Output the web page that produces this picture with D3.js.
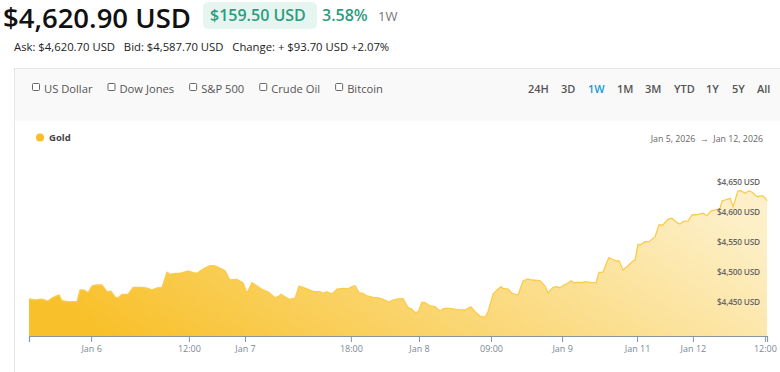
<!DOCTYPE html>
<html lang="en">
<head>
    <meta charset="UTF-8">
    <title>Gold 1W</title>
    <script src="https://d3js.org/d3.v7.min.js"></script>
    <style>
        body { margin: 0; background: #fff; }
        text { font-family: 'Open Sans', sans-serif; }
    </style>
</head>
<body>
<script>

    const width  = 780;
    const height = 372;

    // position along the trading axis (one unit ~ one sample) and price
    const steps = [0, 2, 4.3, 6.3, 7.7, 9.3, 10, 11, 13, 16, 17, 18.3, 19.7, 21, 22.3, 24.3, 26, 27.3, 28.7, 29.7,
        31, 33, 34.7, 37.7, 39.7, 41, 43, 44.3, 46, 47, 48.7, 50.3, 53, 54.7, 56, 58, 60.3, 62, 64.3, 65.3,
        67, 69.3, 71.3, 72.7, 74.3, 76, 78, 79.7, 82, 83, 84, 85.3, 86.7, 88.7, 90, 91.3, 93, 95, 97, 98,
        99.3, 100.3, 101.3, 102.7, 104.7, 106.3, 107.7, 108.7, 110, 111.3, 112.7, 114.7, 116.3, 118, 120, 121.3, 123, 124.7, 126.3, 127.7,
        128.7, 129.7, 131, 132, 133.7, 135.3, 137, 138.3, 140.3, 142.7, 145.3, 147.3, 148.7, 150.3, 152, 153, 154.7, 156, 157.3, 158,
        159.7, 161, 163, 164.7, 166.3, 167.7, 170.3, 172, 173, 174.7, 176, 177, 178.3, 179.3, 180.7, 181.7, 183, 184.3, 185.7, 187.3,
        189, 190, 191.3, 192.7, 193.3, 194.3, 196, 196.7, 198, 199.3, 201, 202, 203, 203.7, 205.3, 206.7, 208.7, 210, 211.3, 213,
        214.3, 216, 217, 218, 219.7, 221, 223, 224.7, 226, 227.3, 229.3, 230.3, 231, 233.7, 234.7, 236.3, 237.3, 238.7, 240, 241,
        242.7, 244.3, 245.3, 246];

    const prices = [4454.2, 4452.5, 4453.7, 4450.8, 4455.8, 4459.7, 4460.8, 4451.3, 4449.7, 4449.7, 4469.2, 4469.2, 4464.7, 4475.8, 4477.5, 4477.5, 4466.3, 4467, 4457.5, 4455.8,
        4462, 4462, 4473.7, 4473.7, 4472, 4469.2, 4473, 4473, 4498.7, 4495.3, 4497, 4497, 4500.8, 4498, 4497, 4504.2, 4509.7, 4509.2, 4504.2, 4501.3,
        4485.8, 4487, 4481.3, 4463.7, 4481.3, 4475.8, 4469.2, 4466.3, 4456.3, 4458, 4462, 4458, 4453.7, 4455.3, 4475.8, 4473.7, 4470.3, 4466.3, 4466.3, 4463.7,
        4466.3, 4463.7, 4463.7, 4470.8, 4472, 4471.3, 4474.7, 4476.3, 4464.7, 4463.7, 4459.2, 4457, 4456.3, 4453.7, 4449.2, 4452.5, 4454.2, 4454.7, 4440.3, 4437,
        4431.3, 4432.5, 4448.7, 4448, 4442.5, 4441.3, 4434.2, 4438.7, 4438.7, 4436.3, 4435.8, 4441.3, 4433, 4425.8, 4423.7, 4433, 4462.5, 4469.2, 4474.7, 4472,
        4470.8, 4463.7, 4460.8, 4484.2, 4487.5, 4485.8, 4484.7, 4475.8, 4464.7, 4473.7, 4474.7, 4473, 4477.5, 4479.2, 4484.7, 4481.3, 4482, 4481.3, 4483, 4481.3,
        4481.3, 4498.7, 4498.7, 4516.3, 4523, 4520.8, 4517.5, 4517.5, 4502.5, 4508, 4516.3, 4519.2, 4545.3, 4544.2, 4549.7, 4549.7, 4558, 4577.5, 4577.5, 4587.5,
        4588.7, 4581.3, 4579.2, 4583, 4584.2, 4594.2, 4595.3, 4597, 4593, 4600.8, 4603.7, 4604.2, 4617.5, 4622, 4608, 4634.2, 4634.7, 4630.3, 4634.7, 4632,
        4624.7, 4626.3, 4623, 4617.5];

    const tickSteps  = [20.7, 53.3, 72, 107.3, 130, 154, 177.7, 202.7, 221.3, 245.3];
    const tickLabels = ['Jan 6', '12:00', 'Jan 7', '18:00', 'Jan 8', '09:00', 'Jan 9', 'Jan 11', 'Jan 12', '12:00'];

    const priceTicks = [4450, 4500, 4550, 4600, 4650];

    const checkLabels = ['US Dollar', 'Dow Jones', 'S&P 500', 'Crude Oil', 'Bitcoin'];
    const rangeLabels = ['24H', '3D', '1W', '1M', '3M', 'YTD', '1Y', '5Y', 'All'];

    const svg = d3.select("body")
            .append("svg")
            .attr("width", width)
            .attr("height", height);

    // header
    svg.append("text")
            .attr("x", 3).attr("y", 28)
            .attr("font-size", 27.5).attr("font-weight", 600).attr("fill", "#111")
            .text("$4,620.90 USD");

    svg.append("rect")
            .attr("x", 203).attr("y", 2).attr("width", 114).attr("height", 27)
            .attr("rx", 5).attr("fill", "#e7f5f1");
    svg.append("text")
            .attr("x", 210).attr("y", 21)
            .attr("font-size", 16).attr("font-weight", 600).attr("fill", "#2a9d80")
            .text("$159.50 USD");
    svg.append("text")
            .attr("x", 322).attr("y", 21)
            .attr("font-size", 16).attr("font-weight", 600).attr("fill", "#2a9d80")
            .text("3.58%");
    svg.append("text")
            .attr("x", 378).attr("y", 21)
            .attr("font-size", 13).attr("fill", "#777")
            .text("1W");

    svg.append("text")
            .attr("x", 14).attr("y", 51)
            .attr("font-size", 11.3).attr("fill", "#222")
            .attr("xml:space", "preserve")
            .text("Ask: $4,620.70 USD   Bid: $4,587.70 USD   Change: + $93.70 USD +2.07%");

    // panel
    svg.append("rect")
            .attr("x", 14.5).attr("y", 68.5).attr("width", 780).attr("height", 320)
            .attr("fill", "#fff").attr("stroke", "#e6e6e6");
    svg.append("rect")
            .attr("x", 15).attr("y", 69).attr("width", 780).attr("height", 52)
            .attr("fill", "#f9f9f9");

    let cx = 32;
    checkLabels.forEach(label => {
        const g = svg.append("g").attr("transform", "translate(" + [cx, 88] + ")");
        g.append("rect")
                .attr("x", 0.5).attr("y", -4.5).attr("width", 7).attr("height", 7)
                .attr("rx", 1).attr("fill", "#fff").attr("stroke", "#666");
        const t = g.append("text")
                .attr("x", 12).attr("y", 4.5)
                .attr("font-size", 11.2).attr("fill", "#555")
                .text(label);
        cx += 12 + t.node().getComputedTextLength() + 15;
    });

    const rangeX = [528, 561, 588, 617, 645, 674, 706, 732, 757];
    rangeLabels.forEach((label, i) => {
        svg.append("text")
                .attr("x", rangeX[i]).attr("y", 93)
                .attr("font-size", 11).attr("font-weight", 600)
                .attr("fill", label === '1W' ? "#1b9ad6" : "#555")
                .text(label);
    });

    // legend
    svg.append("circle").attr("cx", 40).attr("cy", 137.5).attr("r", 4).attr("fill", "#f9bd25");
    svg.append("text")
            .attr("x", 49).attr("y", 141)
            .attr("font-size", 9.5).attr("font-weight", 700).attr("fill", "#444")
            .text("Gold");
    svg.append("text")
            .attr("x", 763).attr("y", 142)
            .attr("text-anchor", "end")
            .attr("font-size", 8.8).attr("fill", "#666")
            .attr("xml:space", "preserve")
            .text("Jan 5, 2026  \u2192  Jan 12, 2026");

    // chart
    const x = d3.scaleLinear()
            .domain([0, 246])
            .range([29, 767]);
    const y = d3.scaleLinear()
            .domain([4392.5, 4650])
            .range([336, 181.5]);

    const data = steps.map((s, i) => ({s: s, p: prices[i]}));

    const defs = svg.append("defs");
    const grad = defs.append("linearGradient")
            .attr("id", "goldFill")
            .attr("x1", "0%").attr("y1", "60%")
            .attr("x2", "100%").attr("y2", "30%");
    grad.append("stop").attr("offset", "0%").attr("stop-color", "#f8c12c");
    grad.append("stop").attr("offset", "100%").attr("stop-color", "#fdf0c9");

    const area = d3.area()
            .x(d => x(d.s))
            .y0(y(4392.5))
            .y1(d => y(d.p));
    const line = d3.line()
            .x(d => x(d.s))
            .y(d => y(d.p));

    svg.append("path")
            .datum(data)
            .attr("d", area)
            .attr("fill", "url(#goldFill)");
    svg.append("path")
            .datum(data)
            .attr("d", line)
            .attr("fill", "none")
            .attr("stroke", "#fbcb4c")
            .attr("stroke-width", 1.3);

    const xAxis = svg.append("g")
            .attr("transform", "translate(0,336)")
            .call(d3.axisBottom(x)
                    .tickValues(tickSteps)
                    .tickFormat((d, i) => tickLabels[i])
                    .tickSize(6)
                    .tickPadding(4));
    xAxis.select(".domain").attr("stroke", "#8796a1").attr("stroke-width", 1.2);
    xAxis.selectAll(".tick line").attr("stroke", "#8796a1");
    xAxis.selectAll(".tick text")
            .attr("font-family", "'Open Sans', sans-serif")
            .attr("font-size", 9)
            .attr("fill", "#7a8994");

    svg.append("g")
            .selectAll("text")
            .data(priceTicks)
            .enter()
            .append("text")
            .attr("x", 760)
            .attr("y", d => y(d) + 3)
            .attr("text-anchor", "end")
            .attr("font-size", 8.3)
            .attr("font-weight", 600)
            .attr("letter-spacing", -0.2)
            .attr("fill", "#666")
            .text(d => "$" + d3.format(",")(d) + " USD");

</script>
</body>
</html>
